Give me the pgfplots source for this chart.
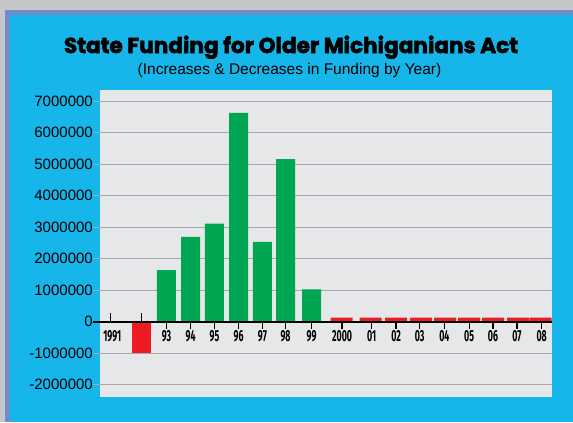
\documentclass[border=0pt]{standalone}
\usepackage{pgfplots}
\pgfplotsset{compat=1.18}
\usepackage{fontspec}
\setmainfont{Liberation Sans}
\newfontfamily\titlefont{Poppins}[BoldFeatures={FakeBold=2.5}]
\newfontfamily\condfont{Fira Sans}
\definecolor{outergray}{HTML}{C5C6C8}
\definecolor{frameblue}{HTML}{6E8CCB}
\definecolor{panelcyan}{HTML}{16B5EA}
\definecolor{plotbg}{HTML}{E6E7E8}
\definecolor{gridgray}{HTML}{A6A8AB}
\definecolor{bargreen}{HTML}{00A651}
\definecolor{barred}{HTML}{ED1C24}
\newcommand\lbl[1]{\scalebox{0.55}[1]{#1}}
\begin{document}
\begin{tikzpicture}[x=1bp,y=1bp]
\useasboundingbox (0,0) rectangle (573,422);
\fill[outergray] (0,0) rectangle (573,422);
\fill[frameblue] (5,0) rectangle (573,412);
\fill[panelcyan] (10,0) rectangle (573,407);
\node[anchor=base, inner sep=0pt] at (291,369)
  {\resizebox{454bp}{!}{\titlefont\bfseries State Funding for Older Michiganians Act}};
\node[anchor=base, inner sep=0pt, font=\fontsize{15.5bp}{18bp}\selectfont] at (289.5,348)
  {(Increases \& Decreases in Funding by Year)};
\begin{axis}[
  at={(100bp,25bp)}, anchor=south west,
  width=451.7bp, height=307.5bp, scale only axis,
  xmin=-0.44, xmax=18.11, ymin=-2390000, ymax=7370000,
  clip=false,
  scaled y ticks=false,
  axis background/.style={fill=plotbg},
  axis x line=middle, axis y line=left,
  axis line style={-},
  y axis line style={draw=none},
  x axis line style={black, line width=2bp},
  xtick align=outside, ytick align=outside,
  major tick length=7bp,
  ytick={-2000000,-1000000,0,1000000,2000000,3000000,4000000,5000000,6000000,7000000},
  yticklabels={-2000000,-1000000,0,1000000,2000000,3000000,4000000,5000000,6000000,7000000},
  ymajorgrids,
  grid style={gridgray, line width=1.2bp},
  ytick style={gridgray, line width=1.2bp},
  yticklabel style={font=\fontsize{15bp}{18bp}\selectfont, inner sep=0pt, anchor=east},
  xtick={2.29,3.28,4.26,5.25,6.23,7.18,8.25,9.50,10.72,11.72,12.69,13.70,14.72,15.70,16.68,17.70},
  xticklabels={\lbl{93},\lbl{94},\lbl{95},\lbl{96},\lbl{97},\lbl{98},\lbl{99},\lbl{2000},\lbl{01},\lbl{02},\lbl{03},\lbl{04},\lbl{05},\lbl{06},\lbl{07},\lbl{08}},
  xtick style={black, line width=1.3bp},
  xticklabel style={font=\condfont\bfseries\fontsize{16bp}{18bp}\selectfont, inner sep=0pt, anchor=north, yshift=-2bp},
  extra x ticks={0,1.27},
  extra x tick labels={\lbl{1991},{}},
  extra x tick style={tick align=inside, major tick length=9bp,
    xticklabel style={yshift=-7bp, xshift=1.5bp}},
]
\addplot[ybar, bar width=19bp, fill=bargreen, draw=none] coordinates {
  (2.29,1640000) (3.28,2690000) (4.26,3110000) (5.25,6630000)
  (6.23,2530000) (7.18,5160000) (8.25,1030000)};
\addplot[ybar, bar width=19bp, fill=barred, draw=none] coordinates {
  (1.26,-990000)};
\addplot[ybar, bar width=22bp, fill=barred, draw=none] coordinates {
  (9.48,130000) (10.67,130000) (11.72,130000) (12.74,130000) (13.73,130000)
  (14.72,130000) (15.70,130000) (16.73,130000) (17.65,130000)};
\draw[black, line width=2bp] (axis cs:-0.727,0) -- (axis cs:18.11,0);
\end{axis}
\end{tikzpicture}
\end{document}
